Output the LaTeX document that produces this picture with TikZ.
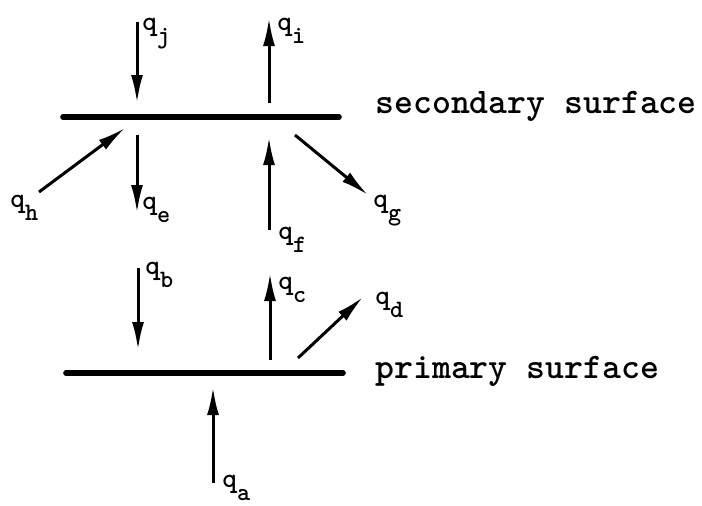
\documentclass[tikz,border=0pt]{standalone}
\usepackage{fontspec}
\usetikzlibrary{arrows.meta}
\newcommand{\qsub}[1]{q\raisebox{-6.5pt}{\fontsize{12.5}{12.5}\selectfont #1}}

\begin{document}
\begin{tikzpicture}[x=0.5pt, y=-0.5pt,
    surf/.style={draw=black, line width=2.8pt, line cap=round},
    arr/.style={-{Latex[length=14pt,width=6pt]}, draw=black, line width=1.5pt},
    qlab/.style={font=\ttfamily\bfseries\fontsize{14}{14}\selectfont,
              inner sep=0pt, anchor=north west},
    slab/.style={font=\ttfamily\bfseries\fontsize{18}{18}\selectfont,
              inner sep=0pt, anchor=base west}]
  \useasboundingbox (0,0) rectangle (702,505);

  % ---------- the two surfaces ---------------------------------------------
  \coordinate (s0) at (63,117);  \coordinate (s1) at (339,117);
  \coordinate (p0) at (66,373);  \coordinate (p1) at (343,373);
  \draw[surf] (s0) -- (s1);
  \draw[surf] (p0) -- (p1);
  \node[slab] (slab2) at (375,113) {secondary surface};
  \node[slab] (slab1) at (375,378) {primary surface};

  % ---------- the fluxes ---------------------------------------------------
  \foreach \n/\xa/\ya/\xb/\yb in {j/137/22/137/103, i/269/103/269/18,
      h/39/192/125/128, e/137/135/137/213, f/269/230/269/137,
      g/295/135/368/195, b/138/268/138/350, c/270/360/270/273,
      d/298/358/363/297, a/213/483/213/387} {
    \coordinate (\n0) at (\xa,\ya);  \coordinate (\n1) at (\xb,\yb);
    \draw[arr] (\n0) -- (\n1);
  }

  % ---------- labels -------------------------------------------------------
  \node[qlab] (lj) at (142,18)  {\qsub{j}};
  \node[qlab] (li) at (277,18)  {\qsub{i}};
  \node[qlab] (lh) at (10,195)  {\qsub{h}};
  \node[qlab] (le) at (142,197) {\qsub{e}};
  \node[qlab] (lf) at (278,227) {\qsub{f}};
  \node[qlab] (lg) at (373,195) {\qsub{g}};
  \node[qlab] (lb) at (145,262) {\qsub{b}};
  \node[qlab] (lc) at (278,277) {\qsub{c}};
  \node[qlab] (ld) at (375,292) {\qsub{d}};
  \node[qlab] (la) at (222,475) {\qsub{a}};
\end{tikzpicture}
\end{document}
